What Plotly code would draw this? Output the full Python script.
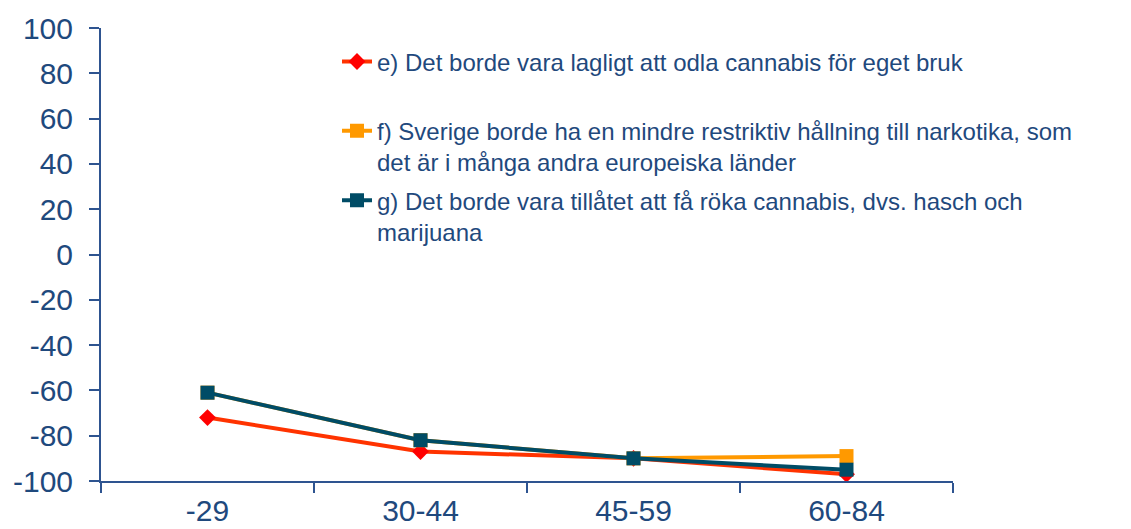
import plotly.graph_objects as go

categories = ["-29", "30-44", "45-59", "60-84"]
series_e = [-72, -87, -90, -97]
series_f = [-61, -82, -90, -89]
series_g = [-61, -82, -90, -95]
names = [
    "e) Det borde vara lagligt att odla cannabis för eget bruk<br> ",
    "f) Sverige borde ha en mindre restriktiv hållning till narkotika, som<br>det är i många andra europeiska länder",
    "g) Det borde vara tillåtet att få röka cannabis, dvs. hasch och<br>marijuana",
]
y_tick_values = [-100, -80, -60, -40, -20, 0, 20, 40, 60, 80, 100]
y_tick_labels = ["-100", "-80", "-60", "-40", "-20", "0", "20", "40", "60", "80", "100"]

text_color = "#1F497D"
axis_color = "#2E5490"
font_family = "Liberation Sans, Arial, sans-serif"

fig = go.Figure()
fig.add_trace(go.Scatter(
    x=categories, y=series_e, name=names[0], mode="lines+markers", legendgroup="e",
    line=dict(color="#FF3300", width=4),
    marker=dict(symbol="diamond", size=13, color="#FF0000"),
))
fig.add_trace(go.Scatter(
    x=categories, y=series_f, name=names[1], mode="lines+markers", legendgroup="f",
    line=dict(color="#FF9900", width=4),
    marker=dict(symbol="square", size=14, color="#FF9900"),
))
fig.add_trace(go.Scatter(
    x=categories, y=series_g, name=names[2], mode="lines+markers", legendgroup="g",
    line=dict(color="#004C66", width=4),
    marker=dict(symbol="square", size=14, color="#004C66"),
))

fig.update_layout(
    width=1123, height=521,
    margin=dict(l=93, r=178, t=20, b=48),
    paper_bgcolor="white", plot_bgcolor="white",
    font=dict(family=font_family, color=text_color),
    showlegend=True,
    legend=dict(
        x=0.277, y=0.975, xanchor="left", yanchor="top",
        font=dict(size=24, color=text_color, family=font_family),
        bgcolor="rgba(0,0,0,0)", valign="top", tracegroupgap=4,
        itemwidth=30,
    ),
    xaxis=dict(
        type="category", showgrid=False, showline=True, linecolor=axis_color, linewidth=2,
        ticks="outside", tickson="boundaries", ticklen=10, tickcolor=axis_color, tickwidth=2,
        tickfont=dict(size=30, color=text_color), range=[-0.5, 3.5], automargin=False,
        ticklabelstandoff=2,
    ),
    yaxis=dict(
        range=[-100, 100], tickmode="array", tickvals=y_tick_values, ticktext=y_tick_labels,
        showgrid=False, zeroline=False, showline=True,
        linecolor=axis_color, linewidth=2, ticks="outside", ticklen=10, tickcolor=axis_color,
        tickwidth=2, tickfont=dict(size=30, color=text_color), ticklabelstandoff=10,
        automargin=False,
    ),
)

fig.write_html("out.html")
